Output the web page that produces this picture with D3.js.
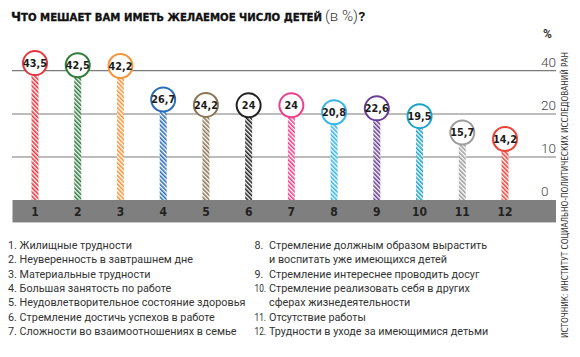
<!DOCTYPE html>
<html><head><meta charset="utf-8">
<script src="https://cdn.jsdelivr.net/npm/d3@7"></script>
<style>body{margin:0;background:#fff}svg{display:block}</style>
</head><body><svg id="c" width="580" height="357"></svg>
<script>
const categories = ["1","2","3","4","5","6","7","8","9","10","11","12"];
const values = [43.5, 42.5, 42.2, 26.7, 24.2, 24, 24, 20.8, 22.6, 19.5, 15.7, 14.2];
const colors = ["#e8343c","#2e7d3a","#f7943a","#2a6ebb","#8c7553","#222222","#ef3e8c","#35b5e9","#6a3d99","#1aa3c9","#9d9d9d","#ef4136"];
const yTicks = [0, 10, 20, 40];
const legendLeft = [
  "1. Жилищные трудности",
  "2. Неуверенность в завтрашнем дне",
  "3. Материальные трудности",
  "4. Большая занятость по работе",
  "5. Неудовлетворительное состояние здоровья",
  "6. Стремление достичь успехов в работе",
  "7. Сложности во взаимоотношениях в семье"
];
const legendRightNums = ["8.","9.","10.","11.","12."];
const legendRightLines = [
  ["Стремление должным образом вырастить","и воспитать уже имеющихся детей"],
  ["Стремление интереснее проводить досуг"],
  ["Стремление реализовать себя в других","сферах жизнедеятельности"],
  ["Отсутствие работы"],
  ["Трудности в уходе за имеющимися детьми"]
];
const titleMain = "ЧТО МЕШАЕТ ВАМ ИМЕТЬ ЖЕЛАЕМОЕ ЧИСЛО ДЕТЕЙ";
const titleUnit = "(в %)";
const sourceText = "ИСТОЧНИК: ИНСТИТУТ СОЦИАЛЬНО-ПОЛИТИЧЕСКИХ ИССЛЕДОВАНИЙ РАН";

const svg = d3.select("#c");
const FONT = "Roboto, 'DejaVu Sans', sans-serif";
const COND = "'DejaVu Sans Condensed', 'DejaVu Sans', sans-serif";

const x = d3.scalePoint().domain(categories).range([35, 505]);
const y = d3.scaleLinear().domain([0, 10, 20, 40]).range([200, 157, 114, 70.7]);
const R = 12;

// patterns
const defs = svg.append("defs");
colors.forEach((c, i) => {
  const p = defs.append("pattern").attr("id", "h" + i)
    .attr("patternUnits", "userSpaceOnUse").attr("width", 3).attr("height", 3)
    .attr("patternTransform", "rotate(-45)");
  p.append("rect").attr("width", 3).attr("height", 3).attr("fill", "#fff");
  p.append("rect").attr("width", 1.6).attr("height", 3).attr("fill", c);
});

// title
const t = svg.append("text").attr("x", 11).attr("y", 20.5)
  .attr("font-family", COND).attr("font-weight", "bold")
  .attr("fill", "#111").attr("stroke", "#111").attr("stroke-width", 0.3)
  .attr("textLength", 311).attr("lengthAdjust", "spacingAndGlyphs");
t.append("tspan").attr("font-size", 12.5).text(titleMain[0]);
t.append("tspan").attr("font-size", 10.2).text(titleMain.slice(1));
svg.append("text").attr("x", 325).attr("y", 20.5).attr("font-family", FONT)
  .attr("font-size", 14).attr("font-weight", 300).attr("fill", "#333")
  .attr("textLength", 33).attr("lengthAdjust", "spacingAndGlyphs").text(titleUnit);
svg.append("text").attr("x", 358.5).attr("y", 20.5).attr("font-family", FONT)
  .attr("font-size", 13.5).attr("font-weight", "bold").attr("fill", "#111").text("?");

// gridlines
svg.append("g").selectAll("line").data(yTicks.filter(d => d > 0)).join("line")
  .attr("x1", 12).attr("x2", 556).attr("y1", d => y(d)).attr("y2", d => y(d))
  .attr("stroke", "#7a7a7a").attr("stroke-width", 1.2);

// axis labels
svg.append("g").selectAll("text").data(yTicks).join("text")
  .attr("x", 541).attr("y", d => y(d) - 4)
  .attr("font-family", FONT).attr("font-size", 13.5).attr("font-weight", 300)
  .attr("fill", "#444").text(d => d);
svg.append("text").attr("x", 543).attr("y", 38).attr("font-family", FONT)
  .attr("font-size", 12).attr("font-weight", "bold").attr("fill", "#333").text("%");

// band
svg.append("rect").attr("x", 12.5).attr("y", 200).attr("width", 543.5).attr("height", 22)
  .attr("fill", "#7f7f7f");
svg.append("line").attr("x1", 12.5).attr("x2", 556).attr("y1", 222.5).attr("y2", 222.5)
  .attr("stroke", "#c8c8c8").attr("stroke-width", 1);
svg.append("g").selectAll("text").data(categories).join("text")
  .attr("x", d => x(d)).attr("y", 216).attr("text-anchor", "middle")
  .attr("font-family", COND)
  .attr("font-weight", "bold").attr("font-size", 12).attr("fill", "#222").text(d => d);

// stems
const pts = categories.map((c, i) => ({ c, v: values[i], col: colors[i], i }));
svg.append("g").selectAll("rect").data(pts).join("rect")
  .attr("x", d => x(d.c) - 3.5).attr("width", 7)
  .attr("y", d => y(d.v) + R).attr("height", d => y(0) - y(d.v) - R)
  .attr("fill", d => `url(#h${d.i})`);

// bubbles
const b = svg.append("g").selectAll("g").data(pts).join("g")
  .attr("transform", d => `translate(${x(d.c)},${y(d.v)})`);
b.append("circle").attr("r", R).attr("fill", "#fff").attr("stroke", d => d.col).attr("stroke-width", 2);
b.append("text").attr("text-anchor", "middle").attr("y", 4)
  .attr("font-family", COND)
  .attr("font-weight", "bold").attr("font-size", 10.8).attr("fill", "#1a1a1a")
  .text(d => String(d.v).replace(".", ","));

// legend
const LY = 249, LH = 14.3;
svg.append("g").selectAll("text").data(legendLeft).join("text")
  .attr("x", 8).attr("y", (d, i) => LY + i * LH)
  .attr("font-family", FONT).attr("font-size", 10.8).attr("fill", "#333").text(d => d);
let row = 0;
const rg = svg.append("g").attr("font-family", FONT).attr("font-size", 10.8).attr("fill", "#333");
legendRightLines.forEach((lines, k) => {
  const num = rg.append("text").attr("x", 254.5).attr("y", LY + row * LH).text(legendRightNums[k]);
  if (legendRightNums[k].length > 2) num.attr("textLength", 11.5).attr("lengthAdjust", "spacingAndGlyphs");
  lines.forEach(l => {
    rg.append("text").attr("x", 269).attr("y", LY + row * LH).text(l);
    row++;
  });
});

// source
svg.append("text").attr("transform", "translate(568,338) rotate(-90)")
  .attr("font-family", COND)
  .attr("font-size", 9).attr("fill", "#333")
  .attr("textLength", 286).attr("lengthAdjust", "spacingAndGlyphs").text(sourceText);
</script></body></html>
